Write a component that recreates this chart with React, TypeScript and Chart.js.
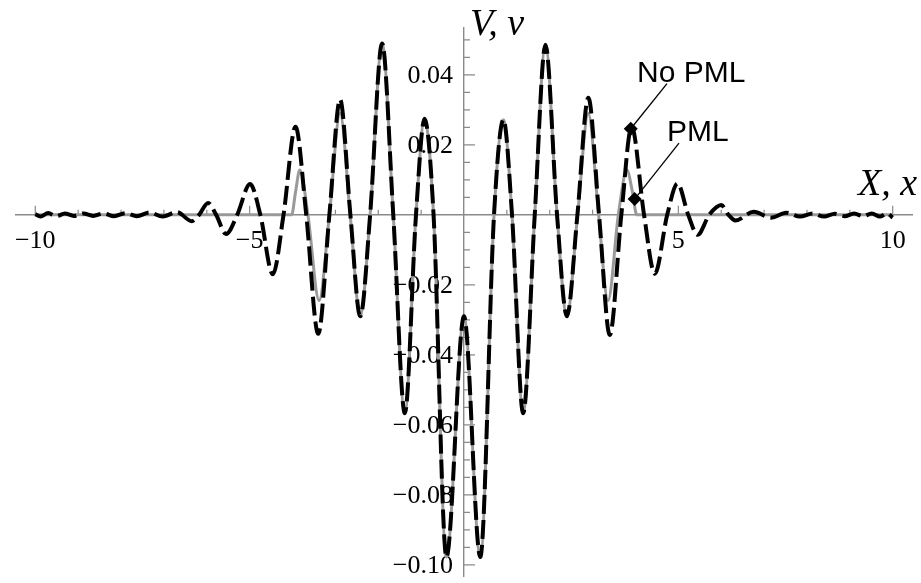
import React, { useEffect, useRef } from 'react';
import { Chart, registerables } from 'chart.js';

Chart.register(...registerables);

// ---- Data: "No PML" (black dashed) ----
const xNoPML = [
  -10.0, -9.88, -9.70, -9.51, -9.31, -9.10, -8.88, -8.65, -8.41, -8.16, -7.90, -7.63, -7.34, -7.03, -6.70,
  -6.35, -6.18, -5.97, -5.78, -5.55, -5.29, -4.99, -4.75, -4.46, -4.21, -3.93, -3.68, -3.40, -3.14, -2.89,
  -2.65, -2.42, -2.19, -1.91, -1.65, -1.38, -1.12, -0.92, -0.71, -0.41, 0.0, 0.38, 0.70, 0.92, 1.12, 1.38,
  1.65, 1.90, 2.17, 2.40, 2.645, 2.90, 3.15, 3.40, 3.67, 3.91, 4.20, 4.45, 4.74, 4.98, 5.23, 5.45, 5.72,
  6.00, 6.17, 6.33, 6.76, 7.16, 7.52, 7.84, 8.13, 8.40, 8.65, 8.88, 9.10, 9.31, 9.51, 9.70, 9.87, 10.0,
];
const vNoPML = [
  0.0002, -0.0005, 0.0005, -0.0004, 0.0004, -0.0003, 0.0004, -0.0003, 0.0004, -0.0004, 0.0005, -0.0004, 0.0007, -0.0005, 0.0008,
  -0.0018, 0.0, 0.0034, 0.0, -0.0055, 0.0, 0.0088, 0.0, -0.017, 0.0, 0.0252, 0.0, -0.034, 0.0, 0.033,
  0.0, -0.029, 0.0, 0.049, 0.0, -0.0567, 0.0, 0.0275, 0.0, -0.0978, -0.029, -0.0978, 0.0, 0.0272, 0.0, -0.0567,
  0.0, 0.0486, 0.0, -0.029, 0.0, 0.0335, 0.0, -0.0343, 0.0, 0.0252, 0.0, -0.0168, 0.0, 0.009, 0.0, -0.0057, 0.0,
  0.0028, 0.0, -0.0016, 0.0009, -0.0008, 0.0006, -0.0005, 0.0004, -0.0005, 0.0003, -0.0004, 0.0004, -0.0004, 0.0004, -0.0005, 0.0004, -0.0008,
];

// ---- Data: "PML" (gray solid) ----
const xPML = [
  -10.0, -4.02, -3.93, -3.83, -3.64, -3.38, -3.14, -2.89, -2.655, -2.42, -2.19, -1.91, -1.65, -1.38, -1.12,
  -0.92, -0.71, -0.41, 0.0, 0.38, 0.70, 0.92, 1.12, 1.38, 1.65, 1.90, 2.17, 2.40, 2.65, 2.90, 3.14, 3.36,
  3.60, 3.80, 3.93, 4.03, 10.0,
];
const vPML = [
  0.0, 0.0, 0.0065, 0.0128, 0.0, -0.0245, 0.0, 0.029, 0.0, -0.029, 0.0, 0.049, 0.0, -0.0567, 0.0,
  0.0275, 0.0, -0.0978, -0.029, -0.0978, 0.0, 0.0272, 0.0, -0.0567, 0.0, 0.0486, 0.0, -0.029, 0.0, 0.029, 0.0, -0.0245,
  0.0, 0.0128, 0.0065, 0.0, 0.0,
];

// ---- Axes ----
const xRange = [-10.45, 10.45];
const yRange = [-0.1032, 0.0534];
const xTickValues = [-10, -5, 5, 10];
const xTickLabels = ['\u221210', '\u22125', '5', '10'];
const yTickValues = [-0.1, -0.08, -0.06, -0.04, -0.02, 0.02, 0.04];
const yTickLabels = ['\u22120.10', '\u22120.08', '\u22120.06', '\u22120.04', '\u22120.02', '0.02', '0.04'];
const axisTitleX = 'X, x';
const axisTitleY = 'V, v';

// ---- Callouts ----
const calloutNames = ['No PML', 'PML'];
const calloutMarkerX = [3.89, 3.98];
const calloutMarkerV = [0.0246, 0.0045];
const calloutLeaderX = [4.735, 5.015];
const calloutLeaderV = [0.0375, 0.0205];
const calloutLabelX = [4.035, 4.735];
const calloutLabelV = [0.0381, 0.0211];

const AXIS_COLOR = '#8a8a8a';
const SERIF = '"Liberation Serif", "Times New Roman", serif';
const SANS = '"Liberation Sans", Arial, sans-serif';

const mmaPlugin = {
  id: 'mmaAxes',
  beforeDatasetsDraw(chart: any) {
    const { ctx, scales } = chart;
    const x = scales.x;
    const y = scales.y;
    const x0 = x.getPixelForValue(0);
    const y0 = y.getPixelForValue(0);
    ctx.save();
    ctx.strokeStyle = AXIS_COLOR;
    ctx.lineWidth = 1.2;
    ctx.beginPath();
    for (let i = -10; i <= 10; i++) {
      if (i === 0) continue;
      const px = x.getPixelForValue(i);
      const len = i % 5 === 0 ? 9 : 5;
      ctx.moveTo(px, y0);
      ctx.lineTo(px, y0 - len);
    }
    for (let k = -20; k <= 10; k++) {
      if (k === 0) continue;
      const py = y.getPixelForValue(k * 0.005);
      const len = k % 4 === 0 ? 11 : 6;
      ctx.moveTo(x0, py);
      ctx.lineTo(x0 + len, py);
    }
    ctx.stroke();

    ctx.fillStyle = '#000';
    ctx.font = '26px ' + SERIF;
    ctx.textAlign = 'right';
    ctx.textBaseline = 'middle';
    yTickValues.forEach((v, i) => {
      ctx.fillText(yTickLabels[i], x0 - 11, y.getPixelForValue(v) + 1.5);
    });

    ctx.font = 'italic 38px ' + SERIF;
    ctx.textBaseline = 'alphabetic';
    ctx.textAlign = 'left';
    ctx.fillText(axisTitleY, x0 + 6, chart.chartArea.top + 7);
    ctx.textAlign = 'right';
    ctx.fillText(axisTitleX, chart.chartArea.right + 5, y0 - 19.5);
    ctx.restore();
  },
  afterDatasetsDraw(chart: any) {
    const { ctx, scales } = chart;
    ctx.save();
    ctx.fillStyle = '#000';
    ctx.font = '30px ' + SANS;
    ctx.textAlign = 'left';
    ctx.textBaseline = 'alphabetic';
    calloutNames.forEach((name, i) => {
      ctx.fillText(name, scales.x.getPixelForValue(calloutLabelX[i]), scales.y.getPixelForValue(calloutLabelV[i]));
    });
    ctx.restore();
  },
};

const zeroPad = (s: any) => {
  s.paddingLeft = 0;
  s.paddingRight = 0;
  s.paddingTop = 0;
  s.paddingBottom = 0;
};

export default function App() {
  const ref = useRef<HTMLCanvasElement>(null);
  useEffect(() => {
    if (!ref.current) return;
    const leaderSets = calloutNames.map((name, i) => ({
      label: name + ' leader',
      data: [
        { x: calloutMarkerX[i], y: calloutMarkerV[i] },
        { x: calloutLeaderX[i], y: calloutLeaderV[i] },
      ],
      borderColor: '#000',
      borderWidth: 1.3,
      pointRadius: 0,
      fill: false,
      order: 0,
    }));
    const chart = new Chart(ref.current, {
      type: 'line',
      data: {
        datasets: [
          {
            label: 'No PML',
            data: xNoPML.map((xv, i) => ({ x: xv, y: vNoPML[i] })),
            borderColor: '#000',
            borderWidth: 4,
            borderDash: [19, 6],
            pointRadius: 0,
            cubicInterpolationMode: 'monotone',
            fill: false,
            order: 1,
          },
          {
            label: 'PML',
            data: xPML.map((xv, i) => ({ x: xv, y: vPML[i] })),
            borderColor: '#9a9a9a',
            borderWidth: 3,
            pointRadius: 0,
            cubicInterpolationMode: 'monotone',
            fill: false,
            order: 2,
          },
          ...leaderSets,
          {
            label: 'markers',
            data: calloutMarkerX.map((xv, i) => ({ x: xv, y: calloutMarkerV[i] })),
            showLine: false,
            pointStyle: 'rectRot',
            pointRadius: 7,
            pointBackgroundColor: '#000',
            pointBorderColor: '#000',
            pointBorderWidth: 0,
            order: -1,
          },
        ] as any,
      },
      options: {
        animation: false,
        responsive: false,
        maintainAspectRatio: false,
        layout: { padding: { left: 16, right: 9, top: 28, bottom: 1 } },
        plugins: { legend: { display: false }, tooltip: { enabled: false } },
        scales: {
          x: {
            type: 'linear',
            min: xRange[0],
            max: xRange[1],
            position: { y: 0 } as any,
            afterBuildTicks: (s: any) => {
              s.ticks = xTickValues.map((v) => ({ value: v }));
            },
            afterFit: zeroPad,
            grid: { display: true, drawOnChartArea: false, drawTicks: false },
            border: { display: true, color: AXIS_COLOR, width: 1.4 },
            ticks: {
              autoSkip: false,
              maxRotation: 0,
              padding: 11,
              color: '#000',
              font: { family: SERIF, size: 26 },
              callback: (v: any) => {
                const idx = xTickValues.indexOf(Number(v));
                return idx >= 0 ? xTickLabels[idx] : '';
              },
            },
          },
          y: {
            type: 'linear',
            min: yRange[0],
            max: yRange[1],
            position: { x: 0 } as any,
            afterBuildTicks: (s: any) => {
              s.ticks = yTickValues.map((v) => ({ value: v }));
            },
            afterFit: zeroPad,
            grid: { display: true, drawOnChartArea: false, drawTicks: false },
            border: { display: true, color: AXIS_COLOR, width: 1.4 },
            ticks: { display: false },
          },
        },
      },
      plugins: [mmaPlugin],
    });
    return () => chart.destroy();
  }, []);
  return (
    <div style={{ position: 'fixed', left: 0, top: 0, width: 921, height: 583, background: '#fff' }}>
      <canvas ref={ref} width={921} height={583} style={{ display: 'block' }} />
    </div>
  );
}
